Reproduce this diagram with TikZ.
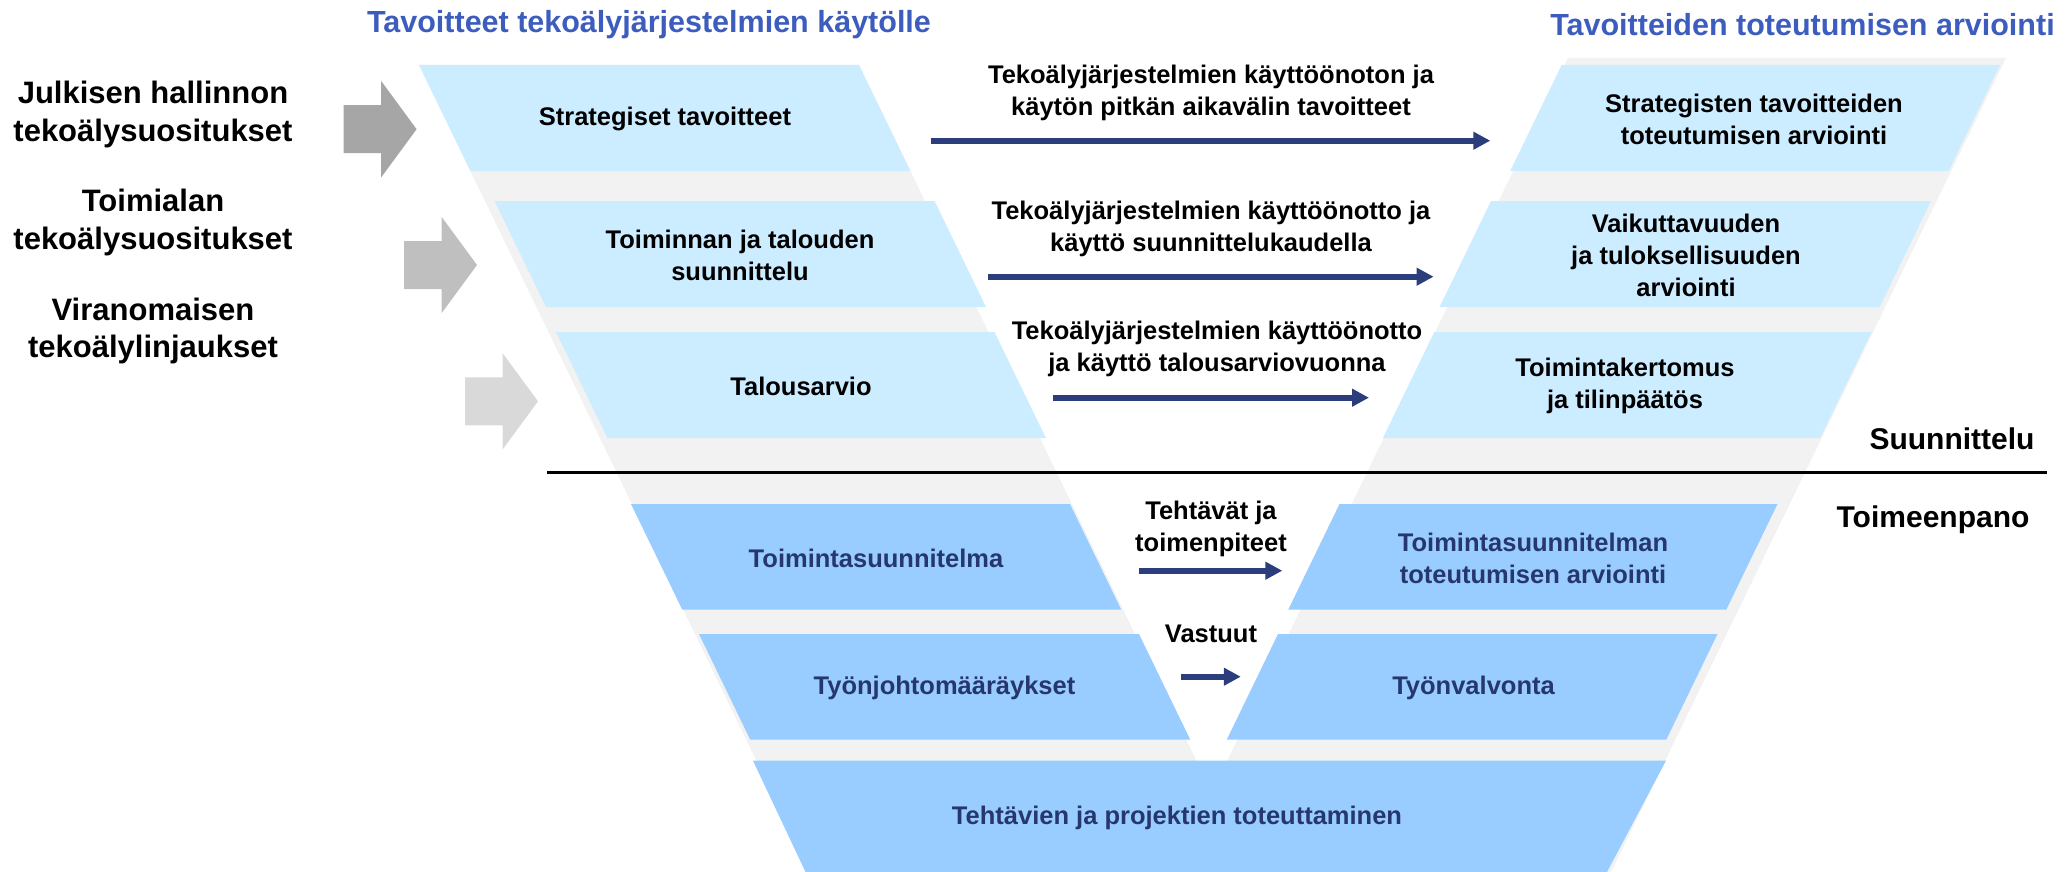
\documentclass[tikz,border=0pt]{standalone}
\usepackage{fontspec}
\setmainfont{Liberation Sans}
\usetikzlibrary{arrows.meta}

\definecolor{bandgray}{HTML}{F2F2F2}
\definecolor{planblue}{HTML}{CCECFF}
\definecolor{actblue}{HTML}{99CCFF}
\definecolor{navy}{RGB}{43,61,122}
\definecolor{navytext}{RGB}{38,55,110}
\definecolor{titleblue}{RGB}{60,92,190}
\definecolor{arrowA}{HTML}{A6A6A6}
\definecolor{arrowB}{HTML}{BFBFBF}
\definecolor{arrowC}{HTML}{D9D9D9}

% slanted bars: x, y (top-left), width, height, colour
\newcommand\slantL[5]{\fill[#5] (#1,#2) -- ++(#3,0) -- ++({0.485*#4},#4) -- ++(-#3,0) -- cycle;}
\newcommand\slantR[5]{\fill[#5] (#1,#2) -- ++(#3,0) -- ++({-0.485*#4},#4) -- ++(-#3,0) -- cycle;}
% grey block arrow: left x, tip y, colour
\newcommand\blockarrow[3]{\fill[#3] (#1,#2-24) -- (#1+37.5,#2-24) -- (#1+37.5,#2-48.3) -- (#1+73,#2)
  -- (#1+37.5,#2+48.3) -- (#1+37.5,#2+24) -- (#1,#2+24) -- cycle;}

\begin{document}
\begin{tikzpicture}[x=1pt,y=-1pt,
  boxtext/.style={font=\bfseries\fontsize{25.5}{32}\selectfont, align=center, inner sep=0pt},
  sidelabel/.style={font=\bfseries\fontsize{31}{37.5}\selectfont, align=center, inner sep=0pt},
  headline/.style={font=\bfseries\fontsize{30.5}{36}\selectfont, text=titleblue, inner sep=0pt},
  phase/.style={font=\bfseries\fontsize{30}{36}\selectfont, inner sep=0pt, anchor=base},
  flow/.style={draw=navy, line width=6pt, -{Triangle[length=17pt,width=17pt]}}
]
\useasboundingbox (0,0) rectangle (2067,872);

% grey funnel arms
\fill[bandgray] (419,65) -- (859,65) -- (1250.4,872) -- (810.4,872) -- cycle;
\fill[bandgray] (1568,58) -- (2006,58) -- (1611.2,872) -- (1173.2,872) -- cycle;

% left arm: goals
\slantL{419}{65}{440}{106}{planblue}
\slantL{494.6}{201}{440}{106}{planblue}
\slantL{556}{332}{438.5}{106}{planblue}
\slantL{631}{504}{439}{105.5}{actblue}
\slantL{699}{634}{440}{105.5}{actblue}
% bottom: execution
\fill[actblue] (753,760.7) -- (1666,760.7) -- (1607,872) -- (805.5,872) -- cycle;
% right arm: evaluation
\slantR{1561.6}{65}{438.4}{106}{planblue}
\slantR{1491}{201}{440}{106}{planblue}
\slantR{1434.3}{332}{437.2}{106}{planblue}
\slantR{1339.5}{504}{438}{105.5}{actblue}
\slantR{1278}{634}{439.5}{105.5}{actblue}

% planning / execution divider
\draw[line width=3.8pt] (547,472.5) -- (2047,472.5);

% headings
\node[headline] (goalshead) at (649,24.5) {Tavoitteet tekoälyjärjestelmien käytölle};
\node[headline] (evalhead) at (1802.5,24.5) {Tavoitteiden toteutumisen arviointi};
\node[phase] (planning) at (1952,449) {Suunnittelu};
\node[phase] (execution) at (1933,527.3) {Toimeenpano};

% guidance on the left
\node[sidelabel] (rec1) at (153,114.5) {Julkisen hallinnon\\tekoälysuositukset};
\node[sidelabel] (rec2) at (153,222.5) {Toimialan\\tekoälysuositukset};
\node[sidelabel] (rec3) at (153,331) {Viranomaisen\\tekoälylinjaukset};
\blockarrow{343.6}{129.2}{arrowA}
\blockarrow{404}{265}{arrowB}
\blockarrow{465}{401.3}{arrowC}

% box texts
\node[boxtext] (strat) at (665,119) {Strategiset tavoitteet};
\node[boxtext] (plan) at (740,255) {Toiminnan ja talouden\\suunnittelu};
\node[boxtext] (budget) at (801,386) {Talousarvio};
\node[boxtext, text=navytext] (actplan) at (876,558) {Toimintasuunnitelma};
\node[boxtext, text=navytext] (orders) at (944.5,688) {Työnjohtomääräykset};
\node[boxtext, text=navytext] (tasks) at (1177,818) {Tehtävien ja projektien toteuttaminen};
\node[boxtext] (stratev) at (1754,119) {Strategisten tavoitteiden\\toteutumisen arviointi};
\node[boxtext] (effect) at (1686,255) {Vaikuttavuuden\\ja tuloksellisuuden\\arviointi};
\node[boxtext] (report) at (1625,386) {Toimintakertomus\\ja tilinpäätös};
\node[boxtext, text=navytext] (actev) at (1533,558) {Toimintasuunnitelman\\toteutumisen arviointi};
\node[boxtext, text=navytext] (superv) at (1473.5,688) {Työnvalvonta};

% arrow labels
\node[boxtext] (lab1) at (1211,92.5) {Tekoälyjärjestelmien käyttöönoton ja\\käytön pitkän aikavälin tavoitteet};
\node[boxtext] (lab2) at (1211,228.5) {Tekoälyjärjestelmien käyttöönotto ja\\käyttö suunnittelukaudella};
\node[boxtext] (lab3) at (1217,349) {Tekoälyjärjestelmien käyttöönotto\\ja käyttö talousarviovuonna};
\node[boxtext] (lab4) at (1211,529) {Tehtävät ja\\toimenpiteet};
\node[boxtext] (lab5) at (1211,634) {Vastuut};

% connectors from goals to evaluation
\coordinate (a1s) at (931,140.7);   \coordinate (a1e) at (1490.3,140.7);
\coordinate (a2s) at (988,276.7);   \coordinate (a2e) at (1433.6,276.7);
\coordinate (a3s) at (1052.5,397.7);\coordinate (a3e) at (1369,397.7);
\coordinate (a4s) at (1138.8,570.7);\coordinate (a4e) at (1282.3,570.7);
\coordinate (a5s) at (1181,676.7);  \coordinate (a5e) at (1240.8,676.7);
\draw[flow] (a1s) -- (a1e);
\draw[flow] (a2s) -- (a2e);
\draw[flow] (a3s) -- (a3e);
\draw[flow] (a4s) -- (a4e);
\draw[flow] (a5s) -- (a5e);
\end{tikzpicture}
\end{document}
